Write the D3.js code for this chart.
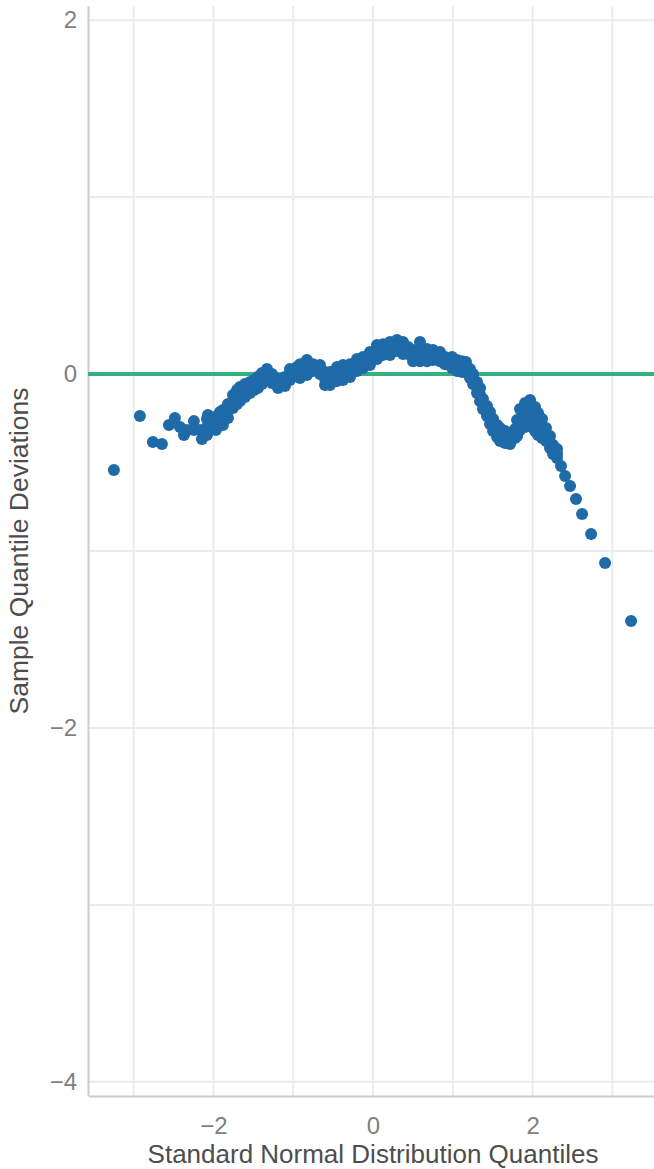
<!DOCTYPE html>
<html>
<head>
<meta charset="utf-8">
<script src="https://cdn.jsdelivr.net/npm/d3@7"></script>
<style>
  body { margin: 0; background: #fff; }
  svg { display: block; font-family: "Liberation Sans", Arial, sans-serif; }
</style>
</head>
<body>
<div id="wrapper"></div>
<script>
// theoretical quantiles (x) and detrended sample deviations (y)
// upper and lower edge of the worm band, plus the isolated tail points
const theoretical = [
	-3.248, -2.922, -2.759, -2.646, -2.558, -2.483, -2.420, -2.370, -2.332, -2.245,
	-2.245, -2.169, -2.144, -2.082, -2.082, -2.069, -2.044, -2.006, -1.981, -1.969,
	-1.981, -1.918, -1.918, -1.881, -1.881, -1.818, -1.818, -1.755, -1.755, -1.705,
	-1.705, -1.668, -1.668, -1.605, -1.605, -1.542, -1.542, -1.492, -1.492, -1.442,
	-1.442, -1.392, -1.392, -1.329, -1.329, -1.266, -1.266, -1.191, -1.191, -1.103,
	-1.103, -1.041, -1.041, -0.953, -0.953, -0.915, -0.915, -0.828, -0.828, -0.752,
	-0.752, -0.665, -0.665, -0.602, -0.602, -0.539, -0.539, -0.451, -0.451, -0.376,
	-0.376, -0.288, -0.288, -0.201, -0.201, -0.125, -0.125, -0.038, -0.038, 0.050,
	0.050, 0.125, 0.125, 0.213, 0.213, 0.301, 0.301, 0.376, 0.376, 0.439,
	0.439, 0.502, 0.502, 0.589, 0.589, 0.677, 0.677, 0.752, 0.752, 0.840,
	0.840, 0.903, 0.903, 0.991, 0.991, 1.053, 1.053, 1.116, 1.116, 1.166,
	1.166, 1.216, 1.216, 1.254, 1.254, 1.304, 1.304, 1.342, 1.342, 1.379,
	1.379, 1.429, 1.429, 1.467, 1.467, 1.505, 1.505, 1.555, 1.555, 1.592,
	1.592, 1.655, 1.655, 1.718, 1.718, 1.781, 1.781, 1.806, 1.806, 1.843,
	1.843, 1.906, 1.906, 1.969, 1.969, 2.031, 2.031, 2.069, 2.069, 2.119,
	2.119, 2.169, 2.169, 2.219, 2.219, 2.257, 2.257, 2.307, 2.307, 2.357,
	2.408, 2.470, 2.545, 2.621, 2.734, 2.909, 3.235
]
const deviation = [
	-0.542, -0.237, -0.384, -0.395, -0.288, -0.249, -0.299, -0.345, -0.316, -0.266,
	-0.316, -0.316, -0.367, -0.254, -0.345, -0.232, -0.294, -0.277, -0.243, -0.316,
	-0.282, -0.215, -0.282, -0.203, -0.288, -0.169, -0.249, -0.119, -0.192, -0.090,
	-0.169, -0.073, -0.153, -0.056, -0.130, -0.045, -0.107, -0.034, -0.090, -0.017,
	-0.079, 0.006, -0.056, 0.028, -0.034, 0.000, -0.051, -0.028, -0.079, -0.017,
	-0.068, 0.028, -0.034, 0.040, -0.011, 0.056, -0.023, 0.079, -0.006, 0.056,
	0.017, 0.051, 0.000, 0.011, -0.062, 0.011, -0.062, 0.040, -0.040, 0.051,
	-0.034, 0.056, -0.017, 0.085, 0.017, 0.096, 0.034, 0.124, 0.051, 0.164,
	0.085, 0.169, 0.107, 0.181, 0.107, 0.192, 0.130, 0.181, 0.113, 0.153,
	0.113, 0.136, 0.073, 0.181, 0.073, 0.141, 0.073, 0.136, 0.079, 0.124,
	0.073, 0.096, 0.056, 0.096, 0.034, 0.079, 0.017, 0.073, 0.011, 0.068,
	0.011, 0.028, -0.023, 0.000, -0.056, -0.045, -0.107, -0.079, -0.153, -0.141,
	-0.198, -0.181, -0.237, -0.215, -0.282, -0.254, -0.322, -0.288, -0.356, -0.305,
	-0.378, -0.322, -0.390, -0.333, -0.395, -0.311, -0.362, -0.260, -0.350, -0.198,
	-0.316, -0.164, -0.299, -0.147, -0.288, -0.186, -0.322, -0.220, -0.345, -0.254,
	-0.362, -0.305, -0.378, -0.350, -0.418, -0.401, -0.452, -0.424, -0.475, -0.520,
	-0.576, -0.633, -0.706, -0.791, -0.904, -1.068, -1.395
]
// points inside the band
const theoreticalInner = [
	-2.082, -1.981, -1.918, -1.881, -1.818, -1.755, -1.705, -1.668, -1.605, -1.542,
	-1.492, -1.442, -1.392, -1.329, -1.266, -1.191, -1.103, -1.041, -0.953, -0.915,
	-0.828, -0.752, -0.665, -0.602, -0.539, -0.451, -0.376, -0.288, -0.201, -0.125,
	-0.038, 0.050, 0.125, 0.213, 0.301, 0.376, 0.439, 0.502, 0.589, 0.677,
	0.752, 0.840, 0.903, 0.991, 1.053, 1.116, 1.166, 1.216, 1.254, 1.304,
	1.342, 1.379, 1.429, 1.467, 1.505, 1.555, 1.592, 1.655, 1.718, 1.781,
	1.806, 1.843, 1.906, 1.969, 2.031, 2.069, 2.119, 2.169, 2.219, 2.257,
	2.307
]
const deviationInner = [
	-0.300, -0.262, -0.249, -0.246, -0.209, -0.156, -0.130, -0.113, -0.093, -0.076,
	-0.062, -0.048, -0.025, -0.003, -0.026, -0.054, -0.042, -0.003, 0.015, 0.017,
	0.037, 0.037, 0.026, -0.026, -0.026, 0.000, 0.009, 0.020, 0.051, 0.065,
	0.088, 0.125, 0.138, 0.144, 0.161, 0.147, 0.133, 0.105, 0.127, 0.107,
	0.108, 0.099, 0.076, 0.065, 0.048, 0.042, 0.040, 0.003, -0.028, -0.076,
	-0.116, -0.170, -0.209, -0.249, -0.288, -0.322, -0.342, -0.356, -0.364, -0.337,
	-0.305, -0.257, -0.232, -0.218, -0.254, -0.283, -0.308, -0.342, -0.384, -0.426,
	-0.450
]

const xMajorTicks = [-2, 0, 2]
const xMinorTicks = [-3, -1, 1, 3]
const yMajorTicks = [-4, -2, 0, 2]
const yMinorTicks = [-3, -1, 1]
const referenceLevel = 0

const xLabel = 'Standard Normal Distribution Quantiles'
const yLabel = 'Sample Quantile Deviations'

function drawWormPlot() {
	const dataset = theoretical.map((x, i) => ({ x: x, y: deviation[i] }))
		.concat(theoreticalInner.map((x, i) => ({ x: x, y: deviationInner[i] })))
	const xAccessor = d => d.x
	const yAccessor = d => d.y

	let dimensions = {
		width: 654,
		height: 1169,
		margin: {
			top: 6,
			right: -3,
			bottom: 73,
			left: 89,
		},
	}
	dimensions.boundedWidth = dimensions.width - dimensions.margin.left - dimensions.margin.right
	dimensions.boundedHeight = dimensions.height - dimensions.margin.top - dimensions.margin.bottom

	const wrapper = d3.select('#wrapper')
		.append('svg')
		.attr('width', dimensions.width)
		.attr('height', dimensions.height)

	const bounds = wrapper.append('g')
		.attr('transform', `translate(${dimensions.margin.left}, ${dimensions.margin.top})`)

	const xScale = d3.scaleLinear()
		.domain([-3.56, 3.56])
		.range([0, dimensions.boundedWidth])

	const yScale = d3.scaleLinear()
		.domain([-4.08, 2.08])
		.range([dimensions.boundedHeight, 0])

	// grid, minor and major look the same weight here
	const grid = bounds.append('g')
	grid.selectAll('.vgrid')
		.data(xMinorTicks.concat(xMajorTicks))
		.join('line')
		.attr('x1', d => xScale(d))
		.attr('x2', d => xScale(d))
		.attr('y1', 0)
		.attr('y2', dimensions.boundedHeight)
		.attr('stroke', '#ebebeb')
		.attr('stroke-width', 2)
	grid.selectAll('.hgrid')
		.data(yMinorTicks.concat(yMajorTicks))
		.join('line')
		.attr('x1', -1)
		.attr('x2', dimensions.boundedWidth)
		.attr('y1', d => yScale(d))
		.attr('y2', d => yScale(d))
		.attr('stroke', '#ebebeb')
		.attr('stroke-width', 2)

	// axes
	const tickFormat = d3.format('d')
	const xAxis = bounds.append('g')
		.attr('transform', `translate(0, ${dimensions.boundedHeight})`)
		.call(d3.axisBottom(xScale).tickValues(xMajorTicks).tickFormat(tickFormat).tickSize(0).tickPadding(21))
	const yAxis = bounds.append('g')
		.attr('transform', 'translate(-1, 0)')
		.call(d3.axisLeft(yScale).tickValues(yMajorTicks).tickFormat(tickFormat).tickSize(0).tickPadding(11))

	xAxis.select('.domain').attr('stroke', '#cccccc').attr('stroke-width', 2)
	yAxis.select('.domain').attr('stroke', '#cccccc').attr('stroke-width', 2)
	xAxis.selectAll('text').attr('fill', '#7f7f7f').style('font-size', '24px')
		.style('font-family', '"Liberation Sans", Arial, sans-serif')
	yAxis.selectAll('text').attr('fill', '#7f7f7f').style('font-size', '24px')
		.style('font-family', '"Liberation Sans", Arial, sans-serif')

	// reference line at zero deviation
	bounds.append('line')
		.attr('x1', -1)
		.attr('x2', dimensions.boundedWidth)
		.attr('y1', yScale(referenceLevel))
		.attr('y2', yScale(referenceLevel))
		.attr('stroke', '#35b07f')
		.attr('stroke-width', 4)

	bounds.append('g')
		.selectAll('circle')
		.data(dataset)
		.join('circle')
		.attr('cx', d => xScale(xAccessor(d)))
		.attr('cy', d => yScale(yAccessor(d)))
		.attr('r', 6)
		.attr('fill', '#1f6aa8')

	// axis titles
	wrapper.append('text')
		.text(xLabel)
		.attr('x', dimensions.margin.left + xScale(0))
		.attr('y', 1163)
		.attr('fill', '#4d4d4d')
		.style('font-size', '26px')
		.style('text-anchor', 'middle')

	wrapper.append('text')
		.text(yLabel)
		.attr('transform', `translate(28, ${dimensions.margin.top + dimensions.boundedHeight / 2}) rotate(-90)`)
		.attr('fill', '#4d4d4d')
		.style('font-size', '26.5px')
		.style('text-anchor', 'middle')
}

drawWormPlot()
</script>
</body>
</html>
